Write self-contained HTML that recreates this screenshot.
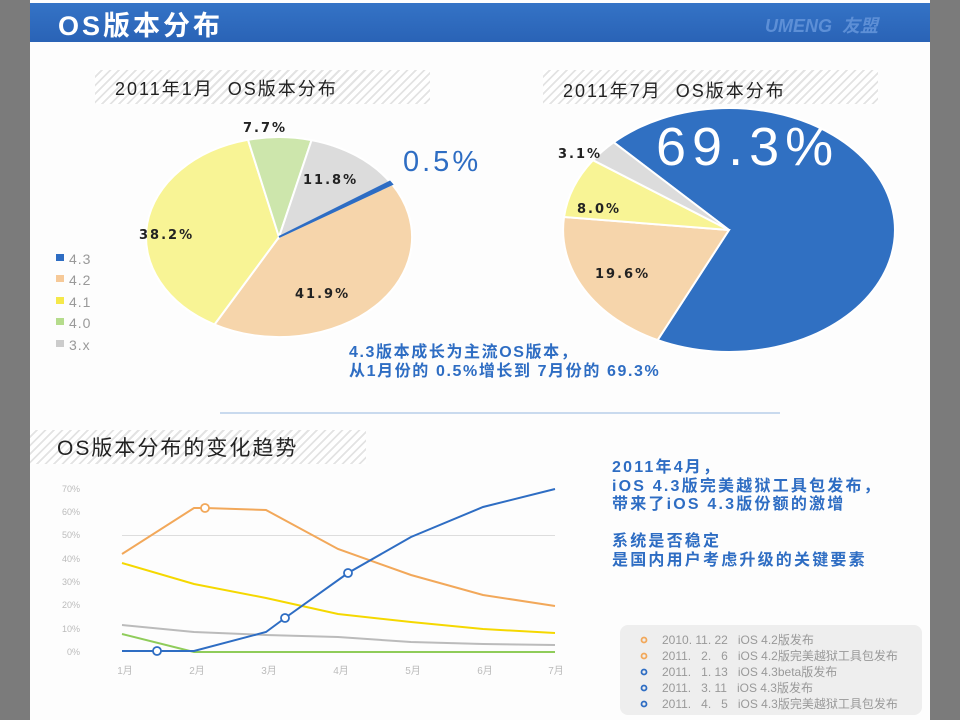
<!DOCTYPE html>
<html><head><meta charset="utf-8"><style>
body{margin:0;width:960px;height:720px;overflow:hidden;background:#7b7b7b;font-family:"Liberation Sans","Noto Sans CJK SC",sans-serif;}
.page{position:absolute;left:30px;top:0;width:900px;height:720px;background:#fdfdfd;}
.hdr{position:absolute;left:30px;top:3px;width:900px;height:39px;background:linear-gradient(#3473c6,#2a63b6);}
.t{position:absolute;white-space:nowrap;}
.hatch{position:absolute;background:repeating-linear-gradient(135deg,#fff 0 4px,#e3e3e3 4px 6px);}
.blue{color:#2e6dc3;font-weight:bold;font-size:16px;line-height:19px;letter-spacing:1.6px;}
</style></head><body>
<div class="page"></div>
<div class="hdr"></div>
<div class="t" style="left:58px;top:4px;color:#fff;font-size:27px;font-weight:bold;letter-spacing:3px;">OS版本分布</div>
<div class="t" style="left:765px;top:12px;color:#5d8fd6;font-size:18px;font-weight:bold;font-style:italic;">UMENG&nbsp;&nbsp;友盟</div>

<div class="hatch" style="left:95px;top:70px;width:335px;height:34px;"></div>
<div class="t" style="left:115px;top:75px;font-size:18px;color:#222;letter-spacing:2px;">2011年1月&nbsp; OS版本分布</div>
<div class="hatch" style="left:543px;top:70px;width:335px;height:34px;"></div>
<div class="t" style="left:563px;top:77px;font-size:18px;color:#222;letter-spacing:2px;">2011年7月&nbsp; OS版本分布</div>
<div class="hatch" style="left:30px;top:430px;width:336px;height:34px;"></div>
<div class="t" style="left:57px;top:432px;font-size:21px;color:#222;letter-spacing:2px;">OS版本分布的变化趋势</div>

<svg width="960" height="720" style="position:absolute;left:0;top:0">
<g transform="translate(279,237) scale(1.33,1)">
<path d="M0 0L85 -52.7A100 100 0 0 1 -48.5 87.5Z" fill="#f6d5ab" stroke="#fff" stroke-width="2" vector-effect="non-scaling-stroke"/>
<path d="M0 0L-48.5 87.5A100 100 0 0 1 -23.3 -97.2Z" fill="#f8f495" stroke="#fff" stroke-width="2" vector-effect="non-scaling-stroke"/>
<path d="M0 0L-23.3 -97.2A100 100 0 0 1 24.5 -96.9Z" fill="#cde6ac" stroke="#fff" stroke-width="2" vector-effect="non-scaling-stroke"/>
<path d="M0 0L24.5 -96.9A100 100 0 0 1 83.3 -55.3Z" fill="#dcdcdc" stroke="#fff" stroke-width="2" vector-effect="non-scaling-stroke"/>
<path d="M0 0L83.3 -55.3A100 100 0 0 1 85 -52.7Z" fill="#2e6dc3" stroke="#2e6dc3" stroke-width="2" vector-effect="non-scaling-stroke"/>
</g>
<g transform="translate(729,230) scale(1.36,1)">
<path d="M0 0L-84.8 -87.7A122 122 0 1 1 -52.5 110.1Z" fill="#3070c2" stroke="#fff" stroke-width="2" vector-effect="non-scaling-stroke"/>
<path d="M0 0L-52.5 110.1A122 122 0 0 1 -121.3 -13Z" fill="#f6d5ab" stroke="#fff" stroke-width="2" vector-effect="non-scaling-stroke"/>
<path d="M0 0L-121.3 -13A122 122 0 0 1 -100 -69.8Z" fill="#f8f495" stroke="#fff" stroke-width="2" vector-effect="non-scaling-stroke"/>
<path d="M0 0L-100 -69.8A122 122 0 0 1 -84.8 -87.7Z" fill="#dcdcdc" stroke="#fff" stroke-width="2" vector-effect="non-scaling-stroke"/>
</g>
<line x1="220" y1="413" x2="780" y2="413" stroke="#b8cfea" stroke-width="1.5"/>
<g font-size="9" fill="#bbb" text-anchor="end" font-family="Liberation Sans,sans-serif">
<text x="80" y="492">70%</text><text x="80" y="515">60%</text><text x="80" y="538">50%</text><text x="80" y="562">40%</text><text x="80" y="585">30%</text><text x="80" y="608">20%</text><text x="80" y="632">10%</text><text x="80" y="655">0%</text>
</g>
<g font-size="10" fill="#bbb" text-anchor="middle" font-family="Liberation Sans,Noto Sans CJK SC,sans-serif">
<text x="125" y="674">1月</text><text x="197" y="674">2月</text><text x="269" y="674">3月</text><text x="341" y="674">4月</text><text x="413" y="674">5月</text><text x="485" y="674">6月</text><text x="556" y="674">7月</text>
</g>
<line x1="122" y1="535.5" x2="555" y2="535.5" stroke="#ddd"/>
<g fill="none" stroke-width="2">
<polyline stroke="#f2a85a" points="122,554 194,508 205,508 266,510 338,549 411,575 483,595 555,606"/>
<polyline stroke="#f5d800" points="122,563 194,584 266,598 338,614 411,622 483,629 555,633"/>
<polyline stroke="#bbb" points="122,625 194,632 266,635 338,637 411,642 483,644 555,645"/>
<polyline stroke="#8fcc5a" points="122,634 194,652 555,652"/>
<polyline stroke="#2e6dc3" points="122,651 157,651 194,651 266,632 285,618 348,573 411,537 483,507 555,489"/>
</g>
<g fill="#fff" stroke-width="1.8">
<circle cx="205" cy="508" r="4" stroke="#f2a85a"/>
<circle cx="157" cy="651" r="4" stroke="#2e6dc3"/>
<circle cx="285" cy="618" r="4" stroke="#2e6dc3"/>
<circle cx="348" cy="573" r="4" stroke="#2e6dc3"/>
</g>
<rect x="620" y="625" width="302" height="90" rx="8" fill="#eeeeee"/>
<g fill="none" stroke-width="1.8">
<circle cx="644" cy="640" r="2.5" stroke="#f2a85a"/><circle cx="644" cy="656" r="2.5" stroke="#f2a85a"/>
<circle cx="644" cy="672" r="2.5" stroke="#2e6dc3"/><circle cx="644" cy="688" r="2.5" stroke="#2e6dc3"/><circle cx="644" cy="704" r="2.5" stroke="#2e6dc3"/>
</g>
<g font-size="12" fill="#999" font-family="Liberation Sans,Noto Sans CJK SC,sans-serif">
<text x="662" y="644">2010. 11. 22&#160;&#160; iOS 4.2版发布</text>
<text x="662" y="660">2011.&#160;&#160; 2.&#160;&#160; 6&#160;&#160; iOS 4.2版完美越狱工具包发布</text>
<text x="662" y="676">2011.&#160;&#160; 1. 13&#160;&#160; iOS 4.3beta版发布</text>
<text x="662" y="692">2011.&#160;&#160; 3. 11&#160;&#160; iOS 4.3版发布</text>
<text x="662" y="708">2011.&#160;&#160; 4.&#160;&#160; 5&#160;&#160; iOS 4.3版完美越狱工具包发布</text>
</g>
<rect x="56" y="254" width="8" height="7" fill="#2e6dc3"/>
<rect x="56" y="275" width="8" height="7" fill="#f6c998"/>
<rect x="56" y="297" width="8" height="7" fill="#f5e84a"/>
<rect x="56" y="318" width="8" height="7" fill="#b5dc8c"/>
<rect x="56" y="340" width="8" height="7" fill="#ccc"/>
<g font-size="14" fill="#999" font-family="Liberation Sans,sans-serif" letter-spacing="1">
<text x="69" y="264">4.3</text><text x="69" y="285">4.2</text><text x="69" y="307">4.1</text><text x="69" y="328">4.0</text><text x="69" y="350">3.x</text>
</g>
<g font-size="13" font-weight="bold" fill="#222" font-family="DejaVu Sans,sans-serif" letter-spacing="2">
<text x="243" y="132">7.7%</text>
<text x="303" y="184">11.8%</text>
<text x="139" y="239">38.2%</text>
<text x="295" y="298">41.9%</text>
<text x="558" y="158">3.1%</text>
<text x="577" y="213">8.0%</text>
<text x="595" y="278">19.6%</text>
</g>
<text x="403" y="171" font-size="29" fill="#2e6dc3" font-family="Liberation Sans,sans-serif" letter-spacing="3">0.5%</text>
<text x="656" y="165" font-size="54" fill="#fff" font-family="Liberation Sans,sans-serif" letter-spacing="6">69.3%</text>
</svg>
<div class="t blue" style="left:349px;top:343px;">4.3版本成长为主流OS版本，<br>从1月份的 0.5%增长到 7月份的 69.3%</div>
<div class="t blue" style="left:612px;top:459px;line-height:18.5px;letter-spacing:2.2px;">2011年4月，<br>iOS 4.3版完美越狱工具包发布，<br>带来了iOS 4.3版份额的激增<br><br>系统是否稳定<br>是国内用户考虑升级的关键要素</div>
</body></html>
